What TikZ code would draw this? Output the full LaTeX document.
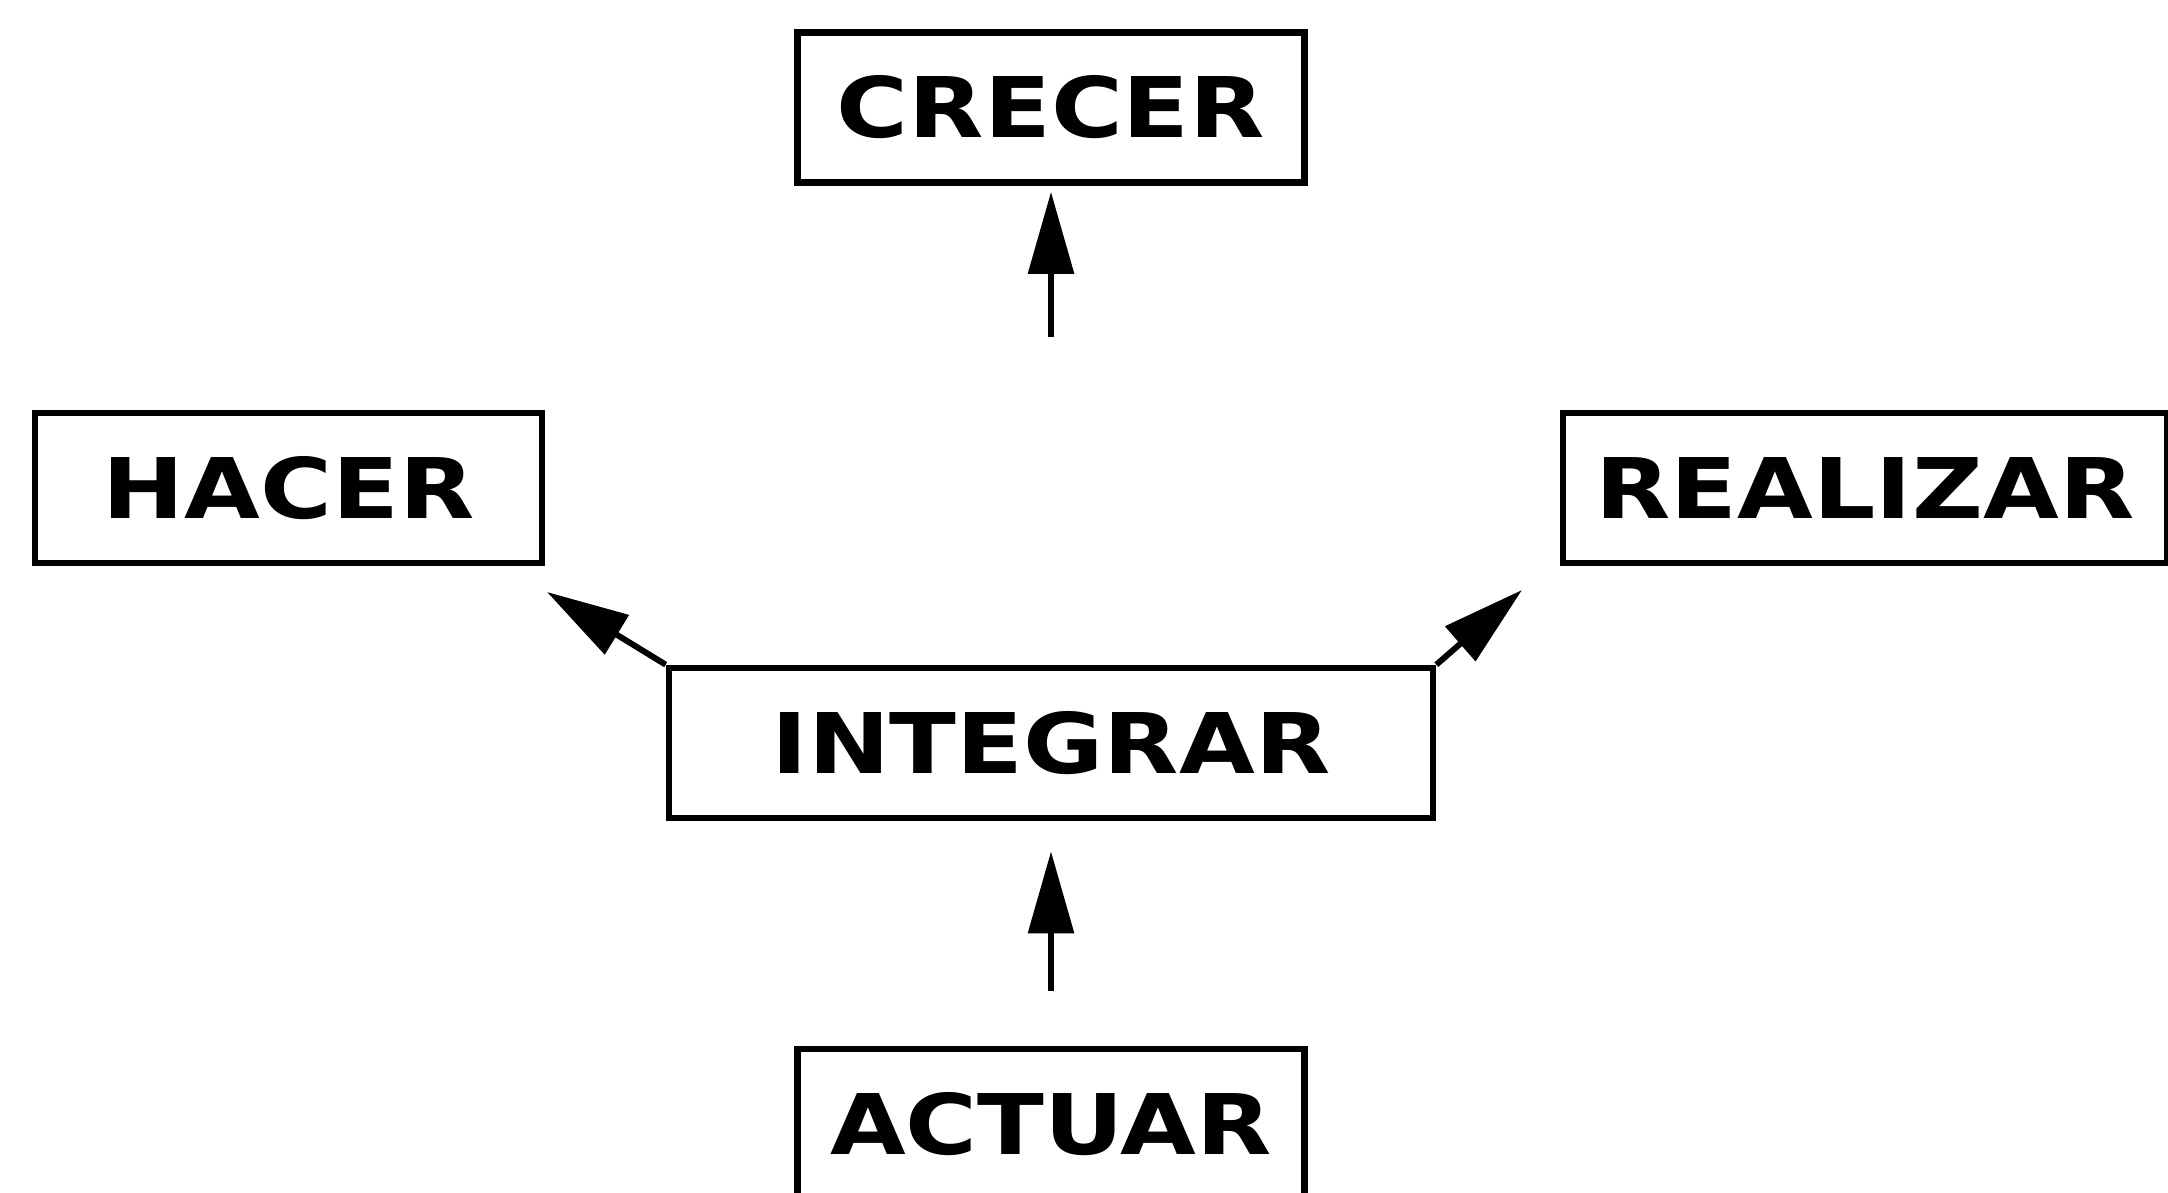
\documentclass[tikz,border=0pt]{standalone}
\usepackage{fontspec}
\newfontfamily\boxfont[FakeStretch=1.17]{DejaVu Sans}
\usetikzlibrary{arrows.meta}

\newcommand{\pagesizex}{21.68cm}
\newcommand{\pagesizey}{11.92cm}
\newcommand{\boxsizey}{1.5cm}
\newcommand{\smallsizex}{5.07cm}
\newcommand{\integrarsizex}{7.64cm}
\newcommand{\realizarsizex}{6.04cm}
\newcommand{\colx}{10.51}

\tikzset{
  wordbox/.style={draw, line width=1.9pt, minimum height=\boxsizey, inner sep=0pt,
    font={\boxfont\bfseries\fontsize{23.8}{28}\selectfont}},
  upline/.style={line width=1.7pt, -{Triangle[length=8.2mm,width=4.5mm]}}
}

\begin{document}
\begin{tikzpicture}
    \useasboundingbox (0,0) rectangle (\pagesizex,-\pagesizey);

    % middle column
    \node[wordbox, minimum width=\smallsizex] (crecer) at (\colx,-1.075) {CRECER};
    \node[wordbox, minimum width=\integrarsizex] (integrar) at (\colx,-7.43) {INTEGRAR};
    \node[wordbox, minimum width=\smallsizex] (actuar) at (\colx,-11.24) {ACTUAR};
    % side boxes
    \node[wordbox, minimum width=\smallsizex] (hacer) at (2.885,-4.88) {HACER};
    \node[wordbox, minimum width=\realizarsizex] (realizar) at (18.65,-4.88) {REALIZAR};

    % free ends
    \coordinate (crecertail) at (\colx,-3.37);
    \coordinate (hacertip) at (5.47,-5.92);
    \coordinate (realizartip) at (15.22,-5.90);

    % arrows
    \draw[upline, shorten >=0.6mm] (crecertail) -- (crecer);
    \draw[upline, shorten <=5.5mm, shorten >=3mm] (actuar) -- (integrar);
    \draw[upline] (integrar.north west) -- (hacertip);
    \draw[upline] (integrar.north east) -- (realizartip);
  \end{tikzpicture}
\end{document}
